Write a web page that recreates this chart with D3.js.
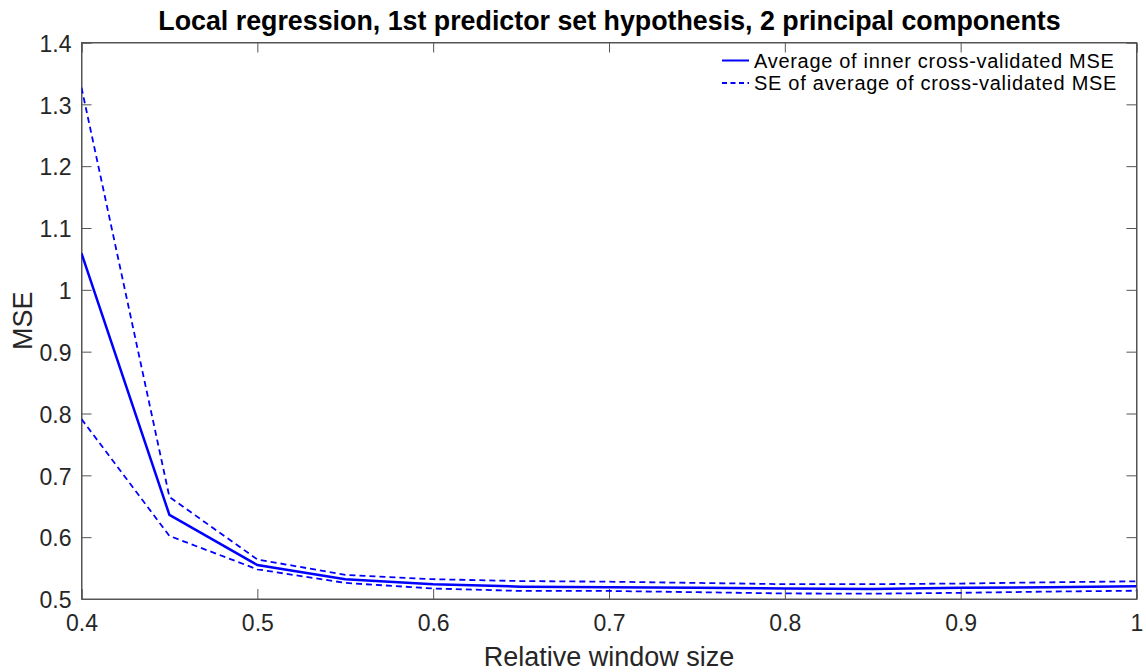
<!DOCTYPE html>
<html><head><meta charset="utf-8">
<script src="https://cdn.jsdelivr.net/npm/d3@7"></script>
<style>body{margin:0;background:#fff;} text{font-family:"Liberation Sans",Arial,sans-serif;}</style>
</head><body>
<svg id="c" width="1146" height="672"></svg>
<script>
const windowSizes = [0.4,0.45,0.5,0.55,0.6,0.65,0.7,0.75,0.8,0.85,0.9,0.95,1.0];
const meanMSE  = [1.059,0.636,0.555,0.532,0.524,0.520,0.519,0.518,0.517,0.516,0.518,0.519,0.5205];
const upperSE  = [1.327,0.665,0.564,0.539,0.532,0.529,0.528,0.526,0.524,0.524,0.525,0.527,0.5286];
const lowerSE  = [0.791,0.602,0.548,0.526,0.517,0.513,0.513,0.511,0.509,0.5086,0.510,0.512,0.5134];
const xTicks = [0.4,0.5,0.6,0.7,0.8,0.9,1];
const yTicks = [0.5,0.6,0.7,0.8,0.9,1,1.1,1.2,1.3,1.4];
const titleText = "Local regression, 1st predictor set hypothesis, 2 principal components";
const xLabel = "Relative window size";
const yLabel = "MSE";
const legendLabels = ["Average of inner cross-validated MSE","SE of average of cross-validated MSE"];

const svg = d3.select("#c");
const L=81.5, R=1136.5, T=42.5, B=599;
const x = d3.scaleLinear().domain([0.4,1]).range([L,R]);
const y = d3.scaleLinear().domain([0.5,1.4]).range([B,T]);
const axisCol="#262626";

svg.append("rect").attr("x",L).attr("y",T).attr("width",R-L).attr("height",B-T)
  .attr("fill","none").attr("stroke","#555").attr("stroke-width",1);

const xa = svg.append("g").attr("transform",`translate(0,${B})`)
  .call(d3.axisBottom(x).tickValues(xTicks).tickSize(-10).tickPadding(16).tickFormat(d3.format("")));
const ya = svg.append("g").attr("transform",`translate(${L},0)`)
  .call(d3.axisLeft(y).tickValues(yTicks).tickSize(-10).tickPadding(10).tickFormat(d3.format("")));
const xt = svg.append("g").attr("transform",`translate(0,${T})`)
  .call(d3.axisTop(x).tickValues(xTicks).tickSize(-10).tickFormat(""));
const yr = svg.append("g").attr("transform",`translate(${R},0)`)
  .call(d3.axisRight(y).tickValues(yTicks).tickSize(-10).tickFormat(""));
[xa,ya,xt,yr].forEach(g=>{
  g.select(".domain").attr("stroke","#555");
  g.selectAll(".tick line").attr("stroke","#555");
  g.selectAll(".tick text").attr("fill",axisCol).attr("font-size",23)
   .attr("font-family","Liberation Sans, Arial, sans-serif");
});
xa.selectAll(".tick text").attr("dy","0.71em");
ya.selectAll(".tick text").attr("dy","0.38em");

const line = d3.line().x((d,i)=>x(windowSizes[i])).y(d=>y(d));
svg.append("clipPath").attr("id","pc").append("rect")
  .attr("x",L).attr("y",T).attr("width",R-L).attr("height",B-T);
const pg = svg.append("g").attr("clip-path","url(#pc)");
pg.append("path").datum(upperSE).attr("d",line).attr("fill","none")
  .attr("stroke","#0000ff").attr("stroke-width",1.8).attr("stroke-dasharray","6,4");
pg.append("path").datum(lowerSE).attr("d",line).attr("fill","none")
  .attr("stroke","#0000ff").attr("stroke-width",1.8).attr("stroke-dasharray","6,4");
pg.append("path").datum(meanMSE).attr("d",line).attr("fill","none")
  .attr("stroke","#0000ff").attr("stroke-width",2.5);

svg.append("text").attr("x",609.5).attr("y",30).attr("text-anchor","middle")
  .attr("font-weight","bold").attr("font-size",26.8).attr("fill","#000").text(titleText);
svg.append("text").attr("x",609).attr("y",666).attr("text-anchor","middle")
  .attr("font-size",27).attr("fill",axisCol).text(xLabel);
svg.append("text").attr("transform",`translate(32,${(T+B)/2}) rotate(-90)`).attr("text-anchor","middle")
  .attr("font-size",27).attr("fill",axisCol).text(yLabel);

const leg = svg.append("g");
legendLabels.forEach((lab,i)=>{
  const ly = 60.5 + i*22.5;
  leg.append("line").attr("x1",722).attr("x2",749).attr("y1",ly).attr("y2",ly)
    .attr("stroke","#0000ff").attr("stroke-width", i===0?2:1.8)
    .attr("stroke-dasharray", i===0?null:"5,3.5");
  leg.append("text").attr("x",754).attr("y",ly).attr("dy","0.36em")
    .attr("font-size",20).attr("letter-spacing","0.7px").attr("fill","#000").text(lab);
});
</script>
</body></html>
